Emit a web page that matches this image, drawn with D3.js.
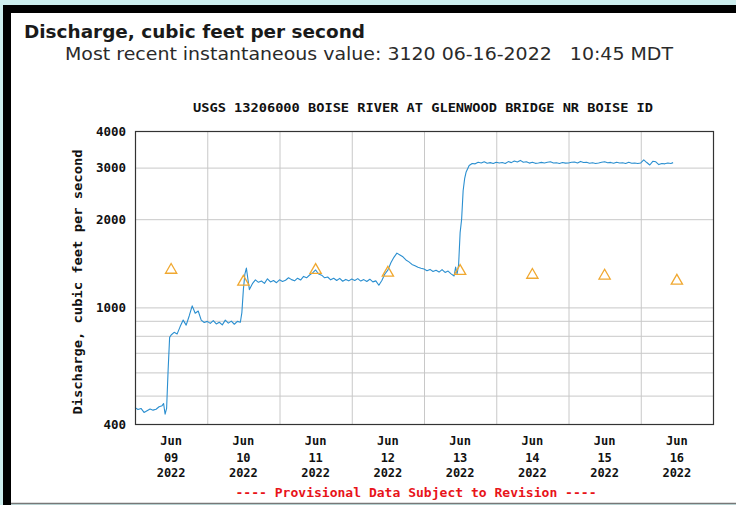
<!DOCTYPE html>
<html>
<head>
<meta charset="utf-8">
<script src="https://cdn.jsdelivr.net/npm/d3@7"></script>
<style>
  body { margin: 0; background: #cdeeee; }
  svg { display: block; }
  text { white-space: pre; }
</style>
</head>
<body>
<script>
// hours after Jun 09 2022 00:00 MDT, and discharge in cfs
var flowHours = [
  0, 1, 2, 3, 4, 5, 6, 7, 8, 9, 9.5, 10, 10.5, 11, 11.5, 12, 13, 14, 15, 16, 17, 18, 19, 20, 21, 22, 23,
  24, 25, 26, 27, 28, 29, 30, 31, 32, 33, 34, 35, 35.5, 36, 36.5, 37, 37.5, 38, 39, 40, 41, 42, 43, 44, 45, 46, 47,
  48, 49, 50, 51, 52, 53, 54, 55, 56, 57, 58, 59, 60, 61, 62, 63, 64, 65, 66, 67, 68, 69, 70, 71,
  72, 73, 74, 75, 76, 77, 78, 79, 80, 81, 82, 83, 84, 85, 86, 87, 88, 89, 90, 91, 92, 93, 94, 95,
  96, 97, 98, 99, 100, 101, 102, 103, 104, 105, 106, 106.5, 107, 107.5, 108, 108.5, 109, 109.5, 110, 111, 112, 113, 114, 115, 116, 117, 118, 119,
  120, 121, 122, 123, 124, 125, 126, 127, 128, 129, 130, 131, 132, 133, 134, 135, 136, 137, 138, 139, 140, 141, 142, 143,
  144, 145, 146, 147, 148, 149, 150, 151, 152, 153, 154, 155, 156, 157, 158, 159, 160, 161, 162, 163, 164, 165, 166, 167,
  168, 169, 170, 171, 172, 173, 174, 175, 176, 177, 178, 178.75
];
var flowValues = [
  455, 448, 452, 438, 444, 450, 446, 449, 458, 462, 470, 432, 452, 610, 790, 805, 822, 812, 860, 905, 870, 935, 1012, 955, 972, 905, 888,
  896, 882, 902, 878, 890, 872, 905, 884, 898, 876, 896, 890, 960, 1150, 1300, 1362, 1250, 1150, 1205, 1242, 1218, 1230, 1208, 1252, 1222, 1236, 1214,
  1242, 1226, 1238, 1262, 1244, 1232, 1258, 1240, 1276, 1262, 1290, 1312, 1342, 1300, 1288, 1262, 1270, 1242, 1258, 1236, 1256, 1228, 1246, 1232,
  1250, 1236, 1254, 1230, 1244, 1226, 1248, 1222, 1232, 1190, 1236, 1300, 1340, 1420, 1482, 1532, 1510, 1488, 1452, 1430, 1402, 1388, 1372, 1360,
  1352, 1334, 1348, 1326, 1338, 1320, 1346, 1316, 1330, 1302, 1280, 1372, 1300, 1400, 1800, 2000, 2500, 2750, 2900, 3050, 3100, 3090, 3130, 3110, 3142, 3105, 3120, 3098,
  3130, 3112, 3124, 3100, 3145, 3120, 3160, 3135, 3175, 3130, 3140, 3108, 3128, 3102, 3112, 3125, 3110, 3130, 3140, 3112, 3118, 3100, 3122, 3108,
  3110, 3130, 3135, 3110, 3150, 3122, 3128, 3104, 3118, 3100, 3112, 3128, 3140, 3118, 3125, 3105, 3130, 3112, 3118, 3100, 3128, 3106, 3110, 3098,
  3112, 3190, 3122, 3062, 3152, 3140, 3072, 3100, 3090, 3112, 3100, 3120
];

// daily median statistic, one per day Jun 09 .. Jun 16
var medianDays = ["2022-06-09", "2022-06-10", "2022-06-11", "2022-06-12", "2022-06-13", "2022-06-14", "2022-06-15", "2022-06-16"];
var medianValues = [1342, 1222, 1340, 1312, 1330, 1290, 1282, 1232];

var yTickValues = [400, 1000, 2000, 3000, 4000];
var yGridValues = [500, 600, 700, 800, 900, 1000, 2000, 3000];
var xLabelDays = ["09", "10", "11", "12", "13", "14", "15", "16"];
var xLabelMonth = "Jun";
var xLabelYear = "2022";

var W = 736, H = 505;
var plotL = 135, plotR = 713, plotT = 131, plotB = 424;
var mono = "'DejaVu Sans Mono', 'Liberation Mono', monospace";
var parseDay = d3.timeParse("%Y-%m-%d");
var start = parseDay("2022-06-09");
var end = parseDay("2022-06-17");

var svg = d3.select("body").append("svg")
    .attr("width", W)
    .attr("height", H);

// white panel with black top / left border
svg.append("rect").attr("x", 11).attr("y", 13).attr("width", W - 11).attr("height", 490).attr("fill", "#fff");
svg.append("rect").attr("x", 3).attr("y", 5).attr("width", W - 3).attr("height", 8).attr("fill", "#000");
svg.append("rect").attr("x", 3).attr("y", 5).attr("width", 8).attr("height", H - 5).attr("fill", "#000");
svg.append("line").attr("x1", 11).attr("x2", W).attr("y1", 503.5).attr("y2", 503.5)
    .attr("stroke", "#777").attr("stroke-width", 1.5);

// headings
svg.append("text")
    .attr("x", 24).attr("y", 38)
    .attr("font-family", "'DejaVu Sans', Verdana, sans-serif")
    .attr("font-size", 17).attr("font-weight", "bold").attr("fill", "#1a1a1a")
    .attr("textLength", 341).attr("lengthAdjust", "spacingAndGlyphs")
    .text("Discharge, cubic feet per second");

svg.append("text")
    .attr("x", 65).attr("y", 60)
    .attr("font-family", "'DejaVu Sans', Verdana, sans-serif")
    .attr("font-size", 17).attr("fill", "#2a2a2a")
    .attr("textLength", 608).attr("lengthAdjust", "spacingAndGlyphs")
    .text("Most recent instantaneous value: 3120 06-16-2022   10:45 MDT");

svg.append("text")
    .attr("x", 423).attr("y", 112)
    .attr("text-anchor", "middle")
    .attr("font-family", mono).attr("font-size", 11.5).attr("font-weight", "bold").attr("fill", "#111")
    .attr("textLength", 460).attr("lengthAdjust", "spacingAndGlyphs")
    .text("USGS 13206000 BOISE RIVER AT GLENWOOD BRIDGE NR BOISE ID");

// scales
var x = d3.scaleTime().domain([start, end]).range([plotL, plotR]);
var y = d3.scaleLog().domain([400, 4000]).range([plotB, plotT]);

// grid
svg.append("g")
    .attr("transform", "translate(0," + plotB + ")")
    .call(d3.axisBottom(x).ticks(d3.timeDay.every(1)).tickSize(-(plotB - plotT)).tickFormat(""))
    .call(function(g) {
        g.select(".domain").remove();
        g.selectAll("line").attr("stroke", "#c8c8c8");
    });

svg.append("g")
    .attr("transform", "translate(" + plotL + ",0)")
    .call(d3.axisLeft(y).tickValues(yGridValues).tickSize(-(plotR - plotL)).tickFormat(""))
    .call(function(g) {
        g.select(".domain").remove();
        g.selectAll("line").attr("stroke", "#c8c8c8");
    });

// y tick labels
svg.append("g")
    .attr("transform", "translate(" + plotL + ",0)")
    .call(d3.axisLeft(y).tickValues(yTickValues).tickSize(0).tickPadding(9).tickFormat(d3.format("d")))
    .call(function(g) {
        g.select(".domain").remove();
        g.selectAll("text")
            .attr("font-family", mono).attr("font-size", 12.5).attr("font-weight", "bold").attr("fill", "#111");
    });

// y axis title
svg.append("text")
    .attr("transform", "translate(82,282) rotate(-90)")
    .attr("text-anchor", "middle")
    .attr("font-family", mono).attr("font-size", 12).attr("font-weight", "bold").attr("fill", "#111")
    .attr("textLength", 265).attr("lengthAdjust", "spacingAndGlyphs")
    .text("Discharge, cubic feet per second");

// x labels centred at noon of each day
function noonX(i) { return x(d3.timeHour.offset(d3.timeDay.offset(start, i), 12)); }
var xLab = svg.append("g").selectAll("text")
    .data(xLabelDays)
    .enter().append("text")
    .attr("text-anchor", "middle")
    .attr("font-family", mono).attr("font-size", 12).attr("font-weight", "bold").attr("fill", "#111");
xLab.append("tspan").attr("x", function(d, i) { return noonX(i); }).attr("y", 445).text(xLabelMonth);
xLab.append("tspan").attr("x", function(d, i) { return noonX(i); }).attr("y", 462).text(function(d) { return d; });
xLab.append("tspan").attr("x", function(d, i) { return noonX(i); }).attr("y", 477).text(xLabelYear);

// discharge line
var flow = flowHours.map(function(h, i) {
    return { t: new Date(start.getTime() + h * 3600000), v: flowValues[i] };
});
var line = d3.line()
    .x(function(d) { return x(d.t); })
    .y(function(d) { return y(d.v); });

svg.append("path")
    .datum(flow)
    .attr("fill", "none")
    .attr("stroke", "#2b8fd0")
    .attr("stroke-width", 1.1)
    .attr("stroke-linejoin", "round")
    .attr("d", line);

// median triangles
var tri = d3.symbol().type(d3.symbolTriangle).size(55);
svg.append("g").selectAll("path")
    .data(medianValues)
    .enter().append("path")
    .attr("d", tri)
    .attr("transform", function(d, i) {
        var t = d3.timeHour.offset(parseDay(medianDays[i]), 12);
        return "translate(" + x(t) + "," + y(d) + ")";
    })
    .attr("fill", "none")
    .attr("stroke", "#f0a830")
    .attr("stroke-width", 1.3);

// plot frame
svg.append("rect")
    .attr("x", plotL + 0.5).attr("y", plotT + 0.5)
    .attr("width", plotR - plotL).attr("height", plotB - plotT)
    .attr("fill", "none").attr("stroke", "#333").attr("stroke-width", 1.2);

// footer
svg.append("text")
    .attr("x", 416).attr("y", 497)
    .attr("text-anchor", "middle")
    .attr("font-family", mono).attr("font-size", 12.5).attr("font-weight", "bold").attr("fill", "#e8141a")
    .attr("textLength", 361).attr("lengthAdjust", "spacingAndGlyphs")
    .text("---- Provisional Data Subject to Revision ----");
</script>
</body>
</html>
